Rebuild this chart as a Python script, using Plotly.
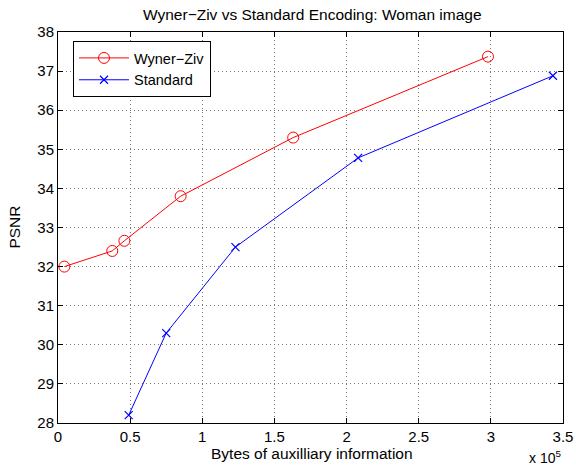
import plotly.graph_objects as go

wz_bytes = [4400, 37600, 46000, 85000, 163000, 298000]
wz_psnr = [32.0, 32.4, 32.66, 33.8, 35.3, 37.37]
std_bytes = [49000, 75000, 123000, 208000, 343000]
std_psnr = [28.2, 30.3, 32.5, 34.78, 36.88]

x_tickvals = [0, 50000, 100000, 150000, 200000, 250000, 300000, 350000]
x_ticktext = ["0", "0.5", "1", "1.5", "2", "2.5", "3", "3.5"]
y_tickvals = list(range(28, 39))

FONT = "Liberation Sans, Arial, sans-serif"
W, H = 576, 469
L, R, T, B = 58, 13, 32, 46

fig = go.Figure()
fig.add_trace(go.Scatter(
    x=wz_bytes, y=wz_psnr, mode="lines+markers", name="Wyner\u2212Ziv",
    line=dict(color="#ff0000", width=1),
    marker=dict(symbol="circle-open", size=11, color="#ff0000", line=dict(width=1)),
))
fig.add_trace(go.Scatter(
    x=std_bytes, y=std_psnr, mode="lines+markers", name="Standard",
    line=dict(color="#0000ff", width=1),
    marker=dict(symbol="x-thin-open", size=8, color="#0000ff", line=dict(width=1.2)),
))

axis_common = dict(
    showline=True, linecolor="black", linewidth=1, mirror="ticks",
    ticks="inside", ticklen=5, tickcolor="black", tickwidth=1,
    showgrid=True, gridcolor="#777777", griddash="1px,3px", gridwidth=1,
    zeroline=False, tickfont=dict(family=FONT, size=15, color="black"),
    automargin=False,
)

fig.update_layout(
    width=W, height=H,
    margin=dict(l=L, r=R, t=T, b=B, autoexpand=False),
    paper_bgcolor="white", plot_bgcolor="white",
    xaxis=dict(range=[0, 350000], tickvals=x_tickvals, ticktext=x_ticktext, **axis_common),
    yaxis=dict(range=[28, 38], tickvals=y_tickvals, **axis_common),
    legend=dict(x=0.0297, y=0.977, xanchor="left", yanchor="top",
                bordercolor="black", borderwidth=1, bgcolor="white",
                font=dict(family=FONT, size=14.5, color="black"),
                itemwidth=50, tracegroupgap=0),
    showlegend=True,
)

tfont = dict(family=FONT, size=15.5, color="black")
fig.add_annotation(text="Wyner\u2212Ziv vs Standard Encoding: Woman image",
                   xref="paper", yref="paper", x=0.504, y=1.046,
                   xanchor="center", yanchor="middle", showarrow=False, font=tfont)
fig.add_annotation(text="Bytes of auxilliary information",
                   xref="paper", yref="paper", x=0.502, y=-0.079,
                   xanchor="center", yanchor="middle", showarrow=False, font=tfont)
fig.add_annotation(text="PSNR", textangle=-90,
                   xref="paper", yref="paper", x=-0.087, y=0.5,
                   xanchor="center", yanchor="middle", showarrow=False, font=tfont)
fig.add_annotation(
    text="x 10<sup>5</sup>", xref="paper", yref="paper", x=1.0, y=-0.058,
    xanchor="right", yanchor="top", showarrow=False,
    font=dict(family=FONT, size=14, color="black"),
)

fig.write_html("out.html", config={"displayModeBar": False},
               post_script="document.body.style.margin='0';")
